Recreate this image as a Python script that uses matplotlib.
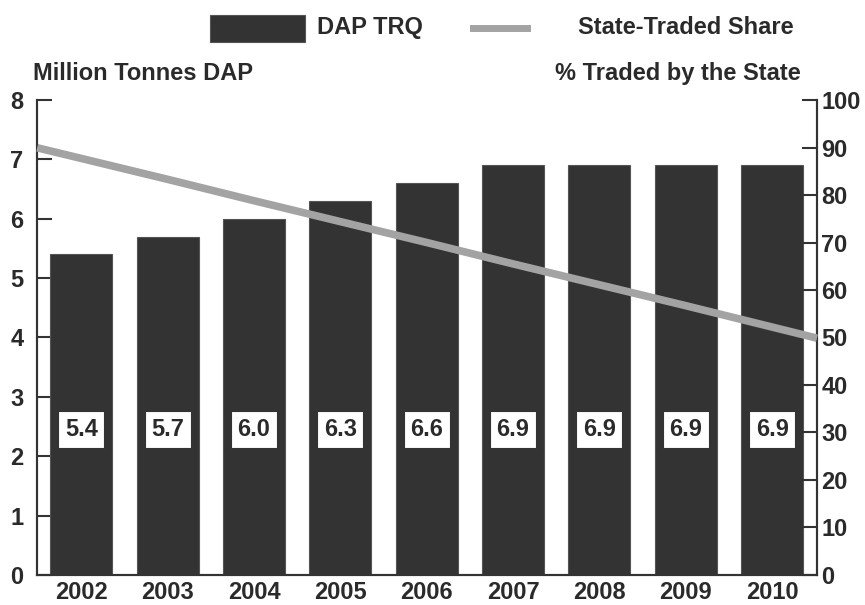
import numpy as np
import matplotlib
matplotlib.use("Agg")
import matplotlib.pyplot as plt
from matplotlib.patches import Rectangle
from matplotlib.lines import Line2D

plt.rcParams['font.family'] = ['Liberation Sans', 'DejaVu Sans']
plt.rcParams['font.weight'] = 'bold'

years = ["2002", "2003", "2004", "2005", "2006", "2007", "2008", "2009", "2010"]
dap_trq = [5.4, 5.7, 6.0, 6.3, 6.6, 6.9, 6.9, 6.9, 6.9]
state_share = [87.7, 83.3, 78.8, 74.4, 70.0, 65.5, 61.1, 56.7, 52.2]

bar_color = "#333333"
line_color = "#a3a3a3"
text_color = "#2a2a2a"
fs = 17

fig = plt.figure(figsize=(8.65, 6.05), dpi=100)
ax = fig.add_axes([0.043, 0.0496, 0.9015, 0.7851])
ax2 = ax.twinx()

x = np.arange(len(years))
ax.bar(x, dap_trq, width=0.72, color=bar_color, edgecolor="#555555", linewidth=0.8, zorder=2)

# value labels in white boxes
for xi, v in zip(x, dap_trq):
    ax.text(xi, 2.45, f"{v:.1f}", ha="center", va="center", fontsize=fs, color=text_color,
            bbox=dict(boxstyle="square,pad=0.28", fc="white", ec="#333333", lw=0.8), zorder=4)

xlim = (-0.51, len(years) - 1 + 0.52)
ax.set_xlim(*xlim)
ax.set_ylim(0, 8)
ax2.set_ylim(0, 100)

# share line runs edge to edge (extend end segments linearly)
xs = np.concatenate([[xlim[0]], x, [xlim[1]]])
s0 = state_share[0] + (state_share[0] - state_share[1]) * (x[0] - xlim[0])
s1 = state_share[-1] + (state_share[-1] - state_share[-2]) * (xlim[1] - x[-1])
ys = np.concatenate([[s0], state_share, [s1]])
ax2.plot(xs, ys, color=line_color, lw=5.5, solid_capstyle="butt", zorder=5, clip_on=False)

ax.set_xticks(x)
ax.set_xticklabels(years)
ax.set_yticks(range(0, 9))
ax2.set_yticks(range(0, 101, 10))

for a in (ax, ax2):
    a.spines["top"].set_visible(False)
    for s in a.spines.values():
        s.set_color("#333333")
        s.set_linewidth(1.5)
    a.tick_params(axis="y", direction="in", length=11, width=1.5, colors="#333333",
                  labelsize=fs, labelcolor=text_color)
ax.tick_params(axis="x", length=0, labelsize=fs, labelcolor=text_color, pad=4)
ax.tick_params(axis="y", pad=10)
ax2.tick_params(axis="y", pad=3)

# axis titles
fig.text(0.038, 0.878, "Million Tonnes DAP", fontsize=fs, color=text_color, ha="left", va="center")
fig.text(0.926, 0.878, "% Traded by the State", fontsize=fs, color=text_color, ha="right", va="center")

# legend
fig.patches.append(Rectangle((0.243, 0.930), 0.110, 0.045, transform=fig.transFigure,
                             fc=bar_color, ec="#555555", lw=0.8))
fig.text(0.367, 0.954, "DAP TRQ", fontsize=fs, color=text_color, ha="left", va="center")
fig.lines.append(Line2D([0.547, 0.609], [0.953, 0.953], transform=fig.transFigure,
                        color=line_color, lw=5))
fig.text(0.668, 0.954, "State-Traded Share", fontsize=fs, color=text_color, ha="left", va="center")

fig.savefig("out.png", dpi=100)
